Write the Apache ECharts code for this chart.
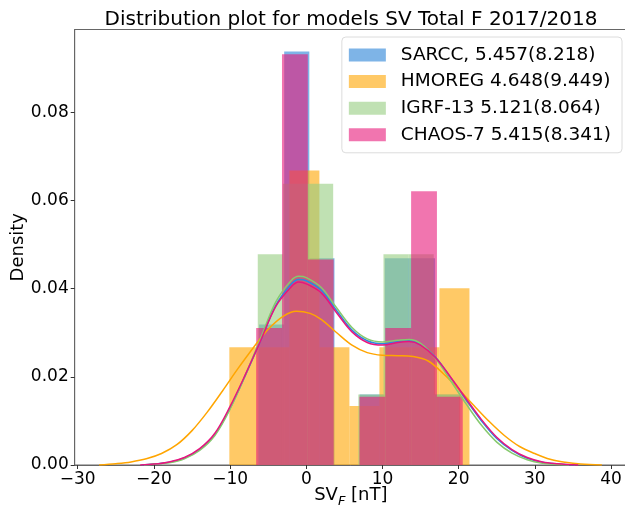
<!DOCTYPE html>
<html>
<head>
    <meta charset="utf-8">
    <title>Distribution plot SV Total F</title>
    <script src="https://cdn.jsdelivr.net/npm/echarts@6/dist/echarts.min.js"></script>
    <style>
        body { margin: 0; background: #fff; }
        #chart { width: 625px; height: 508px; }
    </style>
</head>
<body>
    <div id="chart"></div>
    <script type="text/javascript">
        // model names (legend)
        var names = ['SARCC, 5.457(8.218)', 'HMOREG 4.648(9.449)', 'IGRF-13 5.121(8.064)', 'CHAOS-7 5.415(8.341)'];

        // histogram bin edges and densities
        var sarccEdges = [-6.2, -2.9, 0.4, 3.7, 7.0, 10.3, 13.6, 16.9, 20.2];
        var sarccDens = [0.0319, 0.0938, 0.0469, 0, 0.0160, 0.0469, 0.0469, 0.0160];
        var hmoregEdges = [-10.1, -6.16, -2.22, 1.72, 5.66, 9.6, 13.54, 17.48, 21.42];
        var hmoregDens = [0.0267, 0.0267, 0.0668, 0.0267, 0.0134, 0.0267, 0.0267, 0.0401];
        var igrfEdges = [-6.37, -3.07, 0.23, 3.53, 6.83, 10.13, 13.43, 16.73, 20.03];
        var igrfDens = [0.0478, 0.0638, 0.0638, 0, 0.0160, 0.0478, 0.0478, 0.0160];
        var chaosEdges = [-6.58, -3.19, 0.2, 3.59, 6.98, 10.37, 13.76, 17.15, 20.54];
        var chaosDens = [0.0311, 0.0932, 0.0466, 0, 0.0155, 0.0311, 0.0621, 0.0155];

        // kde curves
        var sarccKdeX = [-21.6, -20, -18, -16, -14, -12, -10, -8, -6, -4, -2, -1, 0, 2, 4, 6, 8, 10, 12, 13.5, 15, 17, 19, 21, 23, 25, 27, 29, 31, 33, 35.3];
        var sarccKdeY = [0, 0.0002, 0.0006, 0.0016, 0.0035, 0.0069, 0.0129, 0.0203, 0.0282, 0.0362, 0.0410, 0.0421, 0.0418, 0.0396, 0.0350, 0.0306, 0.0282, 0.0275, 0.0280, 0.0282, 0.0274, 0.0244, 0.0197, 0.0147, 0.0100, 0.0060, 0.0033, 0.0015, 0.0006, 0.0002, 0];
        var hmoregKdeX = [-27.2, -25, -23, -21, -19, -17, -15, -13, -11, -9, -7, -5, -3, -1.3, 0.5, 2, 4, 6, 8, 10, 12, 14, 16, 18, 20, 22, 24, 26, 28, 30, 32, 34, 36, 38.8];
        var hmoregKdeY = [0, 0.0003, 0.0007, 0.0014, 0.0026, 0.0046, 0.0078, 0.0120, 0.0168, 0.0218, 0.0265, 0.0308, 0.0338, 0.0349, 0.0344, 0.0330, 0.0300, 0.0272, 0.0255, 0.0249, 0.0248, 0.0246, 0.0236, 0.0207, 0.0172, 0.0135, 0.0099, 0.0067, 0.0042, 0.0026, 0.0013, 0.0006, 0.0002, 0];
        var igrfKdeX = [-21.3, -20, -18, -16, -14, -12, -10, -8, -6, -4, -2, -1, 0, 2, 4, 6, 8, 10, 12, 13.5, 15, 17, 19, 21, 23, 25, 27, 29, 31, 33, 34.5];
        var igrfKdeY = [0, 0.0002, 0.0005, 0.0014, 0.0033, 0.0067, 0.0127, 0.0204, 0.0287, 0.0370, 0.0418, 0.0428, 0.0425, 0.0402, 0.0356, 0.0312, 0.0286, 0.0279, 0.0283, 0.0285, 0.0276, 0.0241, 0.0190, 0.0138, 0.0090, 0.0052, 0.0027, 0.0012, 0.0004, 0.0001, 0];
        var chaosKdeX = [-21.8, -20, -18, -16, -14, -12, -10, -8, -6, -4, -2, -1, 0, 2, 4, 6, 8, 10, 12, 13.5, 15, 17, 19, 21, 23, 25, 27, 29, 31, 33, 35.7];
        var chaosKdeY = [0, 0.0002, 0.0007, 0.0017, 0.0037, 0.0072, 0.0133, 0.0205, 0.0282, 0.0360, 0.0404, 0.0415, 0.0411, 0.0390, 0.0345, 0.0302, 0.0278, 0.0272, 0.0278, 0.0280, 0.0272, 0.0243, 0.0198, 0.0150, 0.0103, 0.0063, 0.0035, 0.0017, 0.0007, 0.0003, 0];

        var xTicks = [-30, -20, -10, 0, 10, 20, 30, 40];
        var yTicks = [0, 0.02, 0.04, 0.06, 0.08];

        var histFill = ['rgba(40,130,215,0.6)', 'rgba(255,165,0,0.6)', 'rgba(150,205,128,0.6)', 'rgba(232,25,122,0.6)'];
        var lineColor = ['#2a8ae0', '#ffa500', '#86c96e', '#e8147e'];

        var font = 'DejaVu Sans';

        function binData(edges, dens) {
            var out = [];
            for (var i = 0; i < dens.length; i++) {
                out.push([edges[i], edges[i + 1], dens[i]]);
            }
            return out;
        }
        function kdeData(xs, ys) {
            var out = [];
            for (var i = 0; i < xs.length; i++) out.push([xs[i], ys[i]]);
            return out;
        }

        function renderBin(params, api) {
            var p0 = api.coord([api.value(0), api.value(2)]);
            var p1 = api.coord([api.value(1), 0]);
            return {
                type: 'rect',
                shape: { x: p0[0], y: p0[1], width: p1[0] - p0[0], height: p1[1] - p0[1] },
                style: { fill: histFill[params.seriesIndex] }
            };
        }

        var hists = [binData(sarccEdges, sarccDens), binData(hmoregEdges, hmoregDens),
                     binData(igrfEdges, igrfDens), binData(chaosEdges, chaosDens)];
        var kdes = [kdeData(sarccKdeX, sarccKdeY), kdeData(hmoregKdeX, hmoregKdeY),
                    kdeData(igrfKdeX, igrfKdeY), kdeData(chaosKdeX, chaosKdeY)];

        var series = [];
        for (var i = 0; i < 4; i++) {
            series.push({
                name: names[i],
                type: 'custom',
                renderItem: renderBin,
                itemStyle: { color: histFill[i] },
                encode: { x: [0, 1], y: 2 },
                data: hists[i],
                z: 2
            });
        }
        for (var j = 0; j < 4; j++) {
            series.push({
                name: names[j] + ' kde',
                type: 'line',
                smooth: 0.35,
                showSymbol: false,
                lineStyle: { color: lineColor[j], width: 1.5 },
                itemStyle: { color: lineColor[j] },
                data: kdes[j],
                z: 3 + j
            });
        }

        var myChart = echarts.init(document.getElementById('chart'));
        var option = {
            animation: false,
            backgroundColor: '#fff',
            title: {
                text: 'Distribution plot for models SV Total F 2017/2018',
                left: 346, top: 5, textAlign: 'center',
                textStyle: { fontFamily: font, fontSize: 20, fontWeight: 'normal', color: '#000' }
            },
            legend: {
                orient: 'vertical',
                right: 3, top: 37,
                data: names,
                icon: 'rect',
                itemWidth: 37, itemHeight: 13,
                itemGap: 4.6,
                padding: [7, 11, 7, 7],
                borderColor: '#dcdcdc', borderWidth: 1, borderRadius: 4,
                backgroundColor: 'rgba(255,255,255,0.8)',
                textStyle: { fontFamily: font, fontSize: 18.5, color: '#000', lineHeight: 22, padding: [0, 0, 0, 10] }
            },
            grid: {
                left: 74.7, top: 29.5, right: -2, bottom: 43,
                outerBoundsMode: 'none', containLabel: false,
                show: true, borderColor: '#666', borderWidth: 1
            },
            xAxis: {
                type: 'value', min: -30.4, max: 42.1,
                name: '{a|SV}{b|F}{a| [nT]}',
                nameLocation: 'middle', nameGap: 21, nameMoveOverlap: false,
                nameTextStyle: {
                    rich: {
                        a: { fontFamily: font, fontSize: 18, color: '#000', verticalAlign: 'bottom', padding: [0, 0, 4, 0] },
                        b: { fontFamily: font, fontSize: 13, fontStyle: 'italic', color: '#000', verticalAlign: 'bottom' }
                    }
                },
                axisLine: { onZero: false, lineStyle: { color: '#666' } },
                axisTick: { show: true, length: 4, customValues: xTicks, lineStyle: { color: '#333' } },
                axisLabel: {
                    customValues: xTicks, fontFamily: font, fontSize: 17, color: '#000', margin: 6,
                    formatter: function (v) { return String(v).replace('-', '\u2212'); }
                },
                splitLine: { show: false }
            },
            yAxis: {
                type: 'value', min: 0, max: 0.0988,
                name: 'Density',
                nameLocation: 'middle', nameGap: 47, nameMoveOverlap: false,
                nameTextStyle: { fontFamily: font, fontSize: 18, color: '#000' },
                axisLine: { show: true, onZero: false, lineStyle: { color: '#666' } },
                axisTick: { show: true, length: 4, customValues: yTicks, lineStyle: { color: '#333' } },
                axisLabel: {
                    customValues: yTicks, fontFamily: font, fontSize: 17, color: '#000', margin: 6,
                    formatter: function (v) { return v.toFixed(2); }
                },
                splitLine: { show: false }
            },
            series: series
        };
        myChart.setOption(option);
    </script>
</body>
</html>
